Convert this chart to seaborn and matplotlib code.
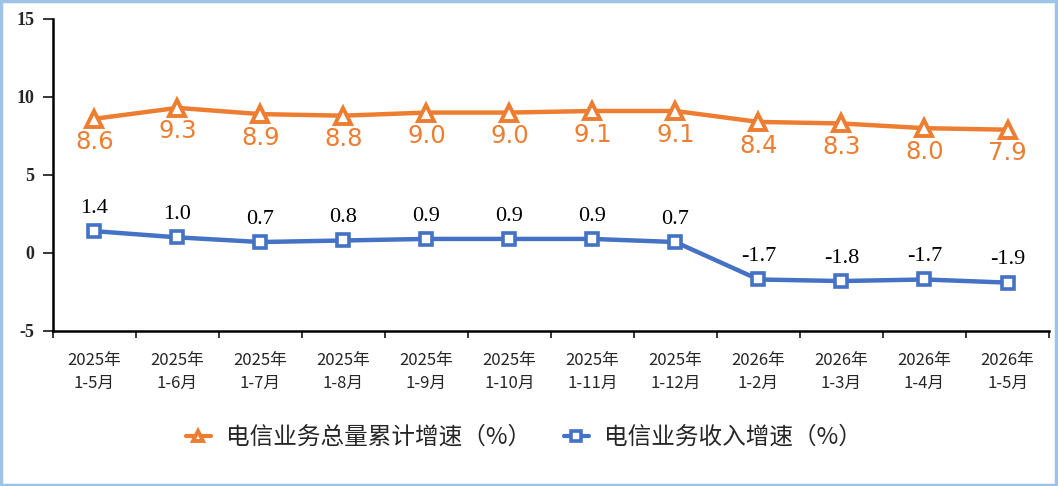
import matplotlib
matplotlib.use("Agg")
import matplotlib.pyplot as plt
import seaborn as sns
import pandas as pd
from matplotlib.patches import Rectangle

categories = ["2025年\n1-5月", "2025年\n1-6月", "2025年\n1-7月", "2025年\n1-8月", "2025年\n1-9月",
              "2025年\n1-10月", "2025年\n1-11月", "2025年\n1-12月", "2026年\n1-2月", "2026年\n1-3月",
              "2026年\n1-4月", "2026年\n1-5月"]
volume_growth = [8.6, 9.3, 8.9, 8.8, 9.0, 9.0, 9.1, 9.1, 8.4, 8.3, 8.0, 7.9]
revenue_growth = [1.4, 1.0, 0.7, 0.8, 0.9, 0.9, 0.9, 0.7, -1.7, -1.8, -1.7, -1.9]
series_names = ["电信业务总量累计增速（%）", "电信业务收入增速（%）"]
y_ticks = [-5, 0, 5, 10, 15]

sns.set_style("ticks")
plt.rcParams['font.family'] = ['Noto Sans CJK SC', 'DejaVu Sans']

ORANGE = "#ED7D31"
BLUE = "#4472C4"

fig = plt.figure(figsize=(10.58, 4.86), dpi=100)
ax = fig.add_axes([0.050, 0.319, 0.9415, 0.642])

x = list(range(len(categories)))
df = pd.DataFrame({"x": x, "v": volume_growth, "r": revenue_growth})

sns.lineplot(data=df, x="x", y="v", ax=ax, color=ORANGE, linewidth=3.2,
             marker="^", markersize=11, markerfacecolor="white",
             markeredgecolor=ORANGE, markeredgewidth=2.8, label=series_names[0])
sns.lineplot(data=df, x="x", y="r", ax=ax, color=BLUE, linewidth=3.2,
             marker="s", markersize=8, markerfacecolor="white",
             markeredgecolor=BLUE, markeredgewidth=2.6, label=series_names[1])

for xi, v in zip(x, volume_growth):
    ax.annotate(f"{v:.1f}", (xi, v), xytext=(0, -17), textcoords="offset points",
                ha="center", va="center", color=ORANGE, fontsize=17.5,
                family="DejaVu Sans")
for xi, v in zip(x, revenue_growth):
    ax.annotate(f"{v:.1f}", (xi, v), xytext=(0, 16.5), textcoords="offset points",
                ha="center", va="center", color="black", fontsize=16,
                family="Liberation Serif")

ax.set_xlim(-0.5, len(categories) - 0.5)
ax.set_ylim(-5, 15)
ax.set_yticks(y_ticks)
ax.set_yticklabels([str(t) for t in y_ticks], family="Liberation Serif",
                   fontsize=13, fontweight="bold")
ax.set_xticks([i - 0.5 for i in range(len(categories) + 1)])
ax.set_xticklabels([])
ax.set_xticks(x, minor=True)
ax.set_xticklabels(categories, minor=True, fontsize=12, linespacing=1.45)
ax.tick_params(axis="x", which="minor", length=0, pad=15)
ax.tick_params(axis="x", which="major", length=5, width=1.3, direction="out")
ax.tick_params(axis="y", length=7.5, width=1.3, direction="out", pad=6)
ax.set_xlabel("")
ax.set_ylabel("")
for s in ["top", "right"]:
    ax.spines[s].set_visible(False)
for s in ["left", "bottom"]:
    ax.spines[s].set_linewidth(1.8)
    ax.spines[s].set_color("black")

leg = ax.legend(loc="center", bbox_to_anchor=(0.495, 0.10), bbox_transform=fig.transFigure,
                ncol=2, frameon=False, fontsize=17, handlelength=1.06,
                columnspacing=1.4, handletextpad=0.64)
for h in leg.get_lines():
    h.set_linewidth(3)
    h.set_markersize(7)

fig.patches.append(Rectangle((0.001, 0.002), 0.997, 0.995, transform=fig.transFigure,
                             fill=False, edgecolor="#9DC3E6", linewidth=2.5))

fig.savefig("out.png", dpi=100)
